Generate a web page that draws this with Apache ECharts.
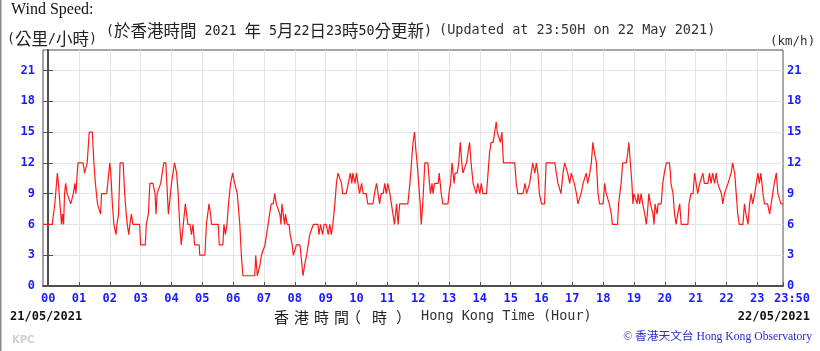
<!DOCTYPE html>
<html><head><meta charset="utf-8">
<script src="https://cdn.jsdelivr.net/npm/echarts@6/dist/echarts.min.js"></script>
<style>html,body{margin:0;padding:0;background:#fff}#c{width:820px;height:351px}</style>
</head><body><div id="c"></div>
<script>
// Tick positions (minutes after 00:00 on 22/05/2021) and their labels
const hourTicks = [0,60,120,180,240,300,360,420,480,540,600,660,720,780,840,900,960,1020,1080,1140,1200,1260,1320,1380,1430];
const hourLabels = ['00','01','02','03','04','05','06','07','08','09','10','11','12','13','14','15','16','17','18','19','20','21','22','23','23:50'];
const speedTicks = [0,3,6,9,12,15,18,21];

// Wind speed (km/h), block 1: 23:50 (prev. day) - 06:10
const minutes1 = [-10,8,13,18,20,23,26,28,30,32,34,37,40,44,49,52,54,58,68,71,73,76,80,86,89,92,94,96,99,102,104,114,116,118,120,122,125,128,132,134,137,140,146,149,152,154,157,159,162,165,178,180,189,191,195,198,204,208,210,212,215,219,222,225,229,234,240,246,250,253,256,259,263,267,269,272,276,279,282,285,294,295,305,306,308,313,316,318,331,333,340,342,345,348,351,355,359,363,368];
const speeds1  = [6,6,8,11,10,8,6,7,6,9,10,9,9,8,9,10,9,12,12,11,11,12,15,15,12,10,9,8,8,7,9,9,10,11,12,11,8,6,5,6,7,12,12,9,7,6,5,6,7,6,6,4,4,6,7,10,10,9,7,9,9,10,11,12,12,7,10,12,11,9,6,4,6,8,8,6,6,5,6,4,4,3,3,4,6,8,7,6,6,4,4,6,5,6,8,10,11,10,9];
// block 2: 06:10 - 12:20
const minutes2 = [370,373,376,379,402,404,407,409,412,415,418,422,425,428,431,434,438,441,444,447,451,453,455,458,460,462,465,469,471,475,477,480,483,490,492,494,496,499,503,506,509,512,516,525,527,530,534,537,541,545,548,551,554,558,561,564,567,571,573,580,584,588,591,593,597,600,603,606,610,613,619,622,632,635,639,642,645,648,652,655,658,661,665,668,671,674,678,681,684,700,704,707,710,713,716,718,721,724,726,729,733,739];
const speeds2  = [9,6,3,1,1,3,1,1,2,3,3,4,5,6,7,8,8,9,8,8,7,6,8,8,6,7,6,6,5,4,3,3,4,4,3,2,1,2,3,4,5,5,6,6,5,6,5,6,6,5,6,5,6,8,10,11,11,10,9,9,10,11,10,11,10,11,10,9,10,9,9,8,8,9,10,9,8,9,9,10,9,10,9,8,7,6,8,6,8,8,10,12,14,15,13,12,10,8,6,8,12,12];
// block 3: 12:20 - 18:30
const minutes3 = [742,744,747,749,752,759,761,763,765,768,778,780,783,786,788,790,792,796,799,802,805,807,810,814,817,820,823,827,830,833,836,840,843,846,853,856,859,862,866,869,872,874,877,880,883,886,908,911,914,924,928,931,937,940,943,947,950,953,956,960,966,969,986,989,992,995,998,1002,1005,1008,1011,1015,1018,1021,1024,1028,1031,1034,1037,1041,1044,1047,1050,1054,1057,1060,1063,1067,1070,1073,1080,1083,1086,1089,1092,1096,1098,1108];
const speeds3  = [10,9,10,9,10,10,11,10,9,8,8,9,10,12,11,10,11,11,12,14,12,11,11,12,12,14,12,10,10,9,10,9,10,9,9,11,13,14,14,15,16,15,15,14,15,12,12,10,9,9,10,9,10,11,12,11,12,11,9,8,8,12,12,11,10,10,9,11,12,12,11,10,11,11,10,9,8,8,9,10,10,11,10,11,12,14,13,12,9,8,8,10,9,9,8,7,6,6];
// block 4: 18:30 - 23:50
const minutes4 = [1110,1112,1115,1118,1125,1128,1130,1133,1136,1138,1140,1143,1146,1148,1151,1154,1157,1161,1164,1166,1169,1172,1177,1179,1181,1185,1187,1193,1196,1199,1203,1209,1211,1212,1216,1219,1222,1225,1229,1232,1245,1247,1249,1251,1255,1258,1261,1264,1268,1274,1277,1284,1287,1290,1293,1297,1300,1303,1306,1310,1313,1316,1319,1323,1326,1329,1332,1336,1339,1342,1345,1352,1355,1358,1362,1365,1368,1371,1375,1378,1381,1384,1387,1391,1394,1400,1404,1407,1410,1413,1417,1420,1423,1426,1430];
const speeds4  = [8,8,10,12,12,13,14,12,10,8,9,9,8,9,8,9,8,7,6,7,9,8,7,6,8,7,8,8,10,11,12,12,11,10,9,7,6,7,8,6,6,8,8,9,9,11,10,9,10,11,10,10,11,10,11,10,11,10,10,9,8,9,9,10,10,11,12,11,9,7,6,6,8,7,6,8,9,8,9,10,11,10,11,9,8,8,7,8,9,10,11,9,9,8,8];

const minutes = minutes1.concat(minutes2, minutes3, minutes4);
const speeds = speeds1.concat(speeds2, speeds3, speeds4);
const seriesData = minutes.map((m, i) => [m, speeds[i]]);

const AX = '#4f4f4f';
const BLUE = '#1a1aff';
const GRID = '#e4e4e4';
const MONO = '"DejaVu Sans Mono", "Liberation Mono", monospace';
const CJK = '"Noto Sans CJK TC", "Noto Sans CJK SC", sans-serif';

const labelStyle = { color: BLUE, fontWeight: 'bold', fontFamily: MONO, fontSize: 12 };

// Axis title characters "香 港 時 間 （時）"
const titleChars = ['香', '港', '時', '間', '（', '時', '）'];
const titleLefts = [274, 294, 314, 334, 346, 372, 396];

// half-width / full-width mixed header text (rich segments)
const halfStyle = { fontSize: 13.3, fontFamily: MONO, fill: '#222', verticalAlign: 'bottom' };
const fullStyle = { fontSize: 16.5, fontFamily: CJK, fill: '#222', verticalAlign: 'bottom' };

function gridAxis(values, type) {
  return {
    type: 'value', min: -10, max: 1430, position: 'bottom',
    axisLine: { show: false }, axisLabel: { show: false },
    axisTick: { show: false, customValues: values },
    splitLine: { show: true, lineStyle: { color: GRID, width: 1, type: type } }
  };
}

const chart = echarts.init(document.getElementById('c'), null, { renderer: 'canvas' });
chart.setOption({
  backgroundColor: '#ffffff',
  animation: false,
  grid: { left: 43, right: 37, top: 50, bottom: 65, show: true, borderColor: AX, borderWidth: 1, backgroundColor: 'transparent' },
  xAxis: [{
    type: 'value', min: -10, max: 1430, position: 'bottom',
    axisLine: { show: true, onZero: false, lineStyle: { color: AX, width: 2 } },
    axisTick: { show: true, inside: true, length: 4, customValues: hourTicks, lineStyle: { color: AX, width: 1 } },
    axisLabel: Object.assign({
      customValues: hourTicks, margin: 7,
      formatter: v => {
        const i = hourTicks.indexOf(v);
        return i === hourTicks.length - 1 ? '{e|' + hourLabels[i] + '}' : hourLabels[i];
      },
      rich: { e: Object.assign({ padding: [0, 0, 0, 18] }, labelStyle) }
    }, labelStyle),
    splitLine: { show: false },
    z: 5
  },
  gridAxis(hourTicks.slice(1, -1), 'solid'),
  gridAxis(hourTicks.slice(0, 1), [4, 3])
  ],
  yAxis: [{
    type: 'value', min: 0, max: 23, interval: 3, position: 'left',
    axisLine: { show: true, lineStyle: { color: AX, width: 2 } },
    axisTick: { show: true, inside: true, length: 5, customValues: speedTicks, lineStyle: { color: AX } },
    axisLabel: Object.assign({ customValues: speedTicks, margin: 8 }, labelStyle),
    splitLine: { show: true, lineStyle: { color: GRID, width: 1 } }
  }, {
    type: 'value', min: 0, max: 23, interval: 3, position: 'right',
    axisLine: { show: true, lineStyle: { color: AX, width: 2 } },
    axisTick: { show: true, inside: true, length: 5, customValues: speedTicks, lineStyle: { color: AX } },
    axisLabel: Object.assign({ customValues: speedTicks, margin: 4 }, labelStyle),
    splitLine: { show: false }
  }],
  series: [{
    type: 'line', data: seriesData, xAxisIndex: 0, yAxisIndex: 0, z: 3, showSymbol: false, silent: true,
    lineStyle: { color: '#ff1a1a', width: 1.2 }
  }],
  graphic: [
    { type: 'rect', left: 0, top: 0, shape: { width: 1.5, height: 351 }, style: { fill: '#8a8a8a' } },
    { type: 'text', left: 11, top: 2, style: { text: 'Wind Speed:', font: '16px "Liberation Serif", serif', fill: '#111' } },
    { type: 'text', left: 7, top: 30, style: {
      text: '{h|(}{f|公里}{h|/}{f|小時}{h|)}',
      rich: { h: halfStyle, f: fullStyle } } },
    { type: 'text', left: 106, top: 22, style: {
      text: '{h|(}{f|於香港時間}{h| 2021 }{f|年}{h| 5}{f|月}{h|22}{f|日}{h|23}{f|時}{h|50}{f|分更新}{h|)}',
      rich: { h: halfStyle, f: fullStyle } } },
    { type: 'text', left: 439, top: 23, style: { text: '(Updated at 23:50H on 22 May 2021)', font: '13.5px ' + MONO, fill: '#333' } },
    { type: 'text', left: 770, top: 35, style: { text: '(km/h)', font: '12.5px ' + MONO, fill: '#333' } },
    { type: 'text', left: 10, top: 311, style: { text: '21/05/2021', font: 'bold 12px ' + MONO, fill: '#111' } },
    { type: 'text', right: 10, top: 311, style: { text: '22/05/2021', font: 'bold 12px ' + MONO, fill: '#111' } }
  ].concat(titleChars.map((ch, i) => ({
    type: 'text', left: titleLefts[i], top: 310, style: { text: ch, font: '15px ' + CJK, fill: '#222' }
  }))).concat([
    { type: 'text', left: 421, top: 309, style: { text: 'Hong Kong Time (Hour)', font: '13.5px ' + MONO, fill: '#333' } },
    { type: 'text', left: 12, top: 335, style: { text: 'KPC', font: 'bold 10px "DejaVu Sans", sans-serif', fill: '#d0d0d0' } },
    { type: 'text', right: 8, top: 331, style: { text: '© 香港天文台 Hong Kong Observatory', font: '11.7px "Liberation Serif", ' + CJK, fill: '#2b2bcc' } }
  ])
});
</script>
</body></html>
